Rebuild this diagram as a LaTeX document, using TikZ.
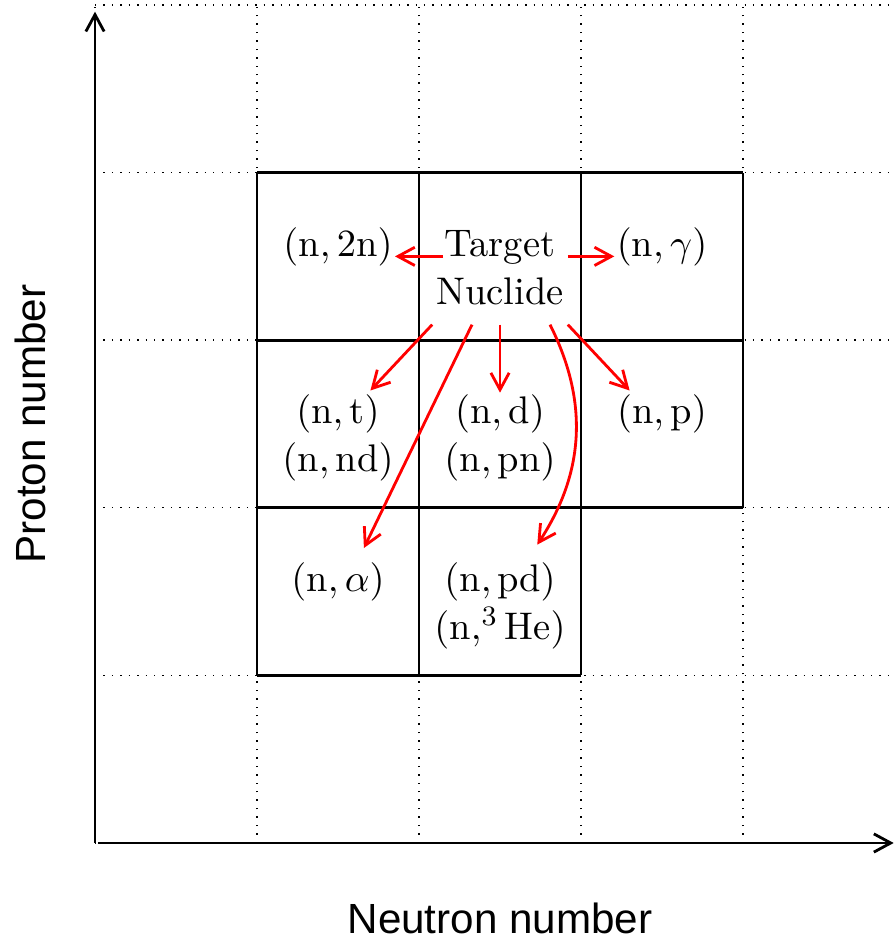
\documentclass[tikz,border=0pt]{standalone}
\usepackage{fontspec}
\newfontfamily\axisfont{Liberation Sans}
\usetikzlibrary{arrows.meta}

\begin{document}
\begin{tikzpicture}[x=1.62cm,y=1.676cm,
    >={Straight Barb[length=4.8pt,width=5.2pt]},
    lbl/.style={anchor=base,align=center,inner sep=0.5pt,font=\fontsize{10.95}{13.6}\selectfont},
    twolines/.style={lbl,yshift=-13.6pt},
    rxn/.style={->,red,thick},
    axislbl/.style={font=\axisfont\fontsize{12}{14}\selectfont}]
  \useasboundingbox (-0.95cm,-0.96cm) rectangle (8.0cm,8.43cm);

  % chart grid and the cells round the target
  \draw[dotted,step=1] (0,0) grid (5,5);
  \draw[thick,step=1] (1,2) grid (4,4);
  \draw[thick,step=1] (1,1) grid (3,2);

  % axes
  \draw[thick,->] (0.02,0) -- (4.93,0);
  \draw[thick,->] (0,0) -- (0,4.96);
  \node[axislbl] (xlbl) at (2.5,-0.45) {Neutron number};
  \node[axislbl,rotate=90] (ylbl) at (-0.4,2.5) {Proton number};

  % nuclides
  \node[twolines,inner xsep=1pt,inner ysep=5.5pt] (tgt) at (2.5,3.5) {Target\\Nuclide};
  \node[lbl] (n2n) at (1.5,3.5) {$(\mathrm{n},2\mathrm{n})$};
  \node[lbl] (ngam) at (3.5,3.5) {$(\mathrm{n},\gamma)$};
  \node[twolines] (nt) at (1.5,2.5) {$(\mathrm{n},\mathrm{t})$\\$(\mathrm{n},\mathrm{nd})$};
  \node[twolines] (nd) at (2.5,2.5) {$(\mathrm{n},\mathrm{d})$\\$(\mathrm{n},\mathrm{pn})$};
  \node[lbl] (np) at (3.5,2.5) {$(\mathrm{n},\mathrm{p})$};
  \node[lbl] (na) at (1.5,1.5) {$(\mathrm{n},\alpha)$};
  \node[twolines] (npd) at (2.5,1.5) {$(\mathrm{n},\mathrm{pd})$\\$(\mathrm{n},^3\mathrm{He})$};

  \coordinate (t-tip) at (1.7,2.7);
  \coordinate (p-tip) at (3.3,2.7);
  \coordinate (a-tip) at (1.66,1.76);
  \coordinate (pd-tip) at (2.73,1.78);

  % reactions
  \draw[rxn,shorten <=-1.1mm] (tgt.west |- n2n.base) -- (n2n.base east);
  \draw[rxn] (tgt.east |- ngam.base) -- (ngam.base west);
  \draw[rxn] (tgt.south west) -- (t-tip);
  \draw[rxn] ([xshift=-2.8mm]tgt.south) -- (a-tip);
  \draw[rxn] (tgt.south) -- (nd.north);
  \draw[rxn] ([xshift=5mm]tgt.south) to[bend left=30] (pd-tip);
  \draw[rxn] (tgt.south east) -- (p-tip);
\end{tikzpicture}
\end{document}
